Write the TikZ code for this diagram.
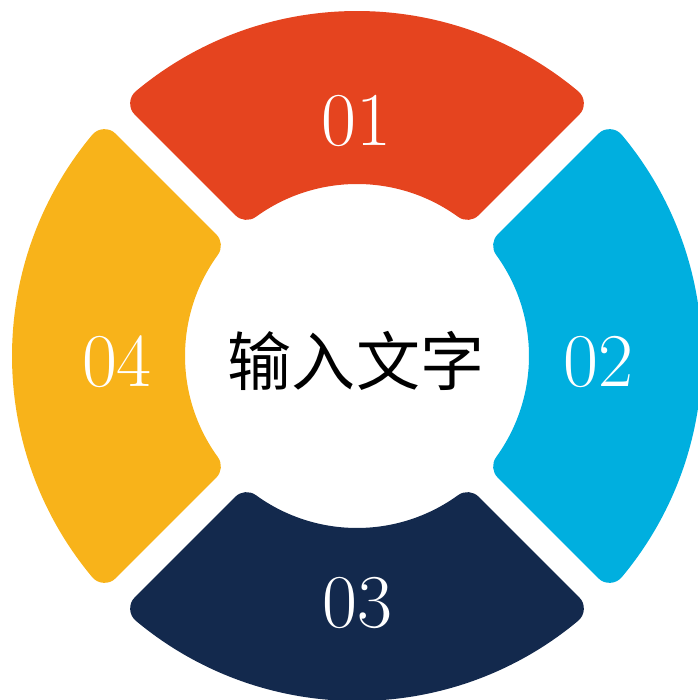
\documentclass[tikz,border=0pt]{standalone}
\usepackage{fontspec}
\newfontfamily\cjk{Noto Sans CJK SC}
\definecolor{cRed}{RGB}{229,68,31}
\definecolor{cBlue}{RGB}{0,175,223}
\definecolor{cNavy}{RGB}{19,41,77}
\definecolor{cYellow}{RGB}{248,179,26}
\tikzset{
  numlabel/.style={text=white,font=\fontsize{76}{80}\selectfont,inner sep=0pt},
  seg/.style={fill=#1,draw=#1,line width=32pt,line join=round}
}
\newcommand\ringseg[2]{%
  \begin{scope}[rotate=#1]
    \filldraw[seg=#2]
      (\aO:\Ro) arc[start angle=\aO, end angle={180-\aO}, radius=\Ro]
      -- ({180-\aI}:\Ri) arc[start angle={180-\aI}, end angle=\aI, radius=\Ri] -- cycle;
  \end{scope}}
\begin{document}
\begin{tikzpicture}[x=1pt,y=1pt]
\useasboundingbox (-357,-344) rectangle (340,356);
\pgfmathsetmacro\Ro{329}
\pgfmathsetmacro\Ri{188}
\pgfmathsetmacro\dd{29.5}
\pgfmathsetmacro\aO{45+asin(\dd/\Ro)}
\pgfmathsetmacro\aI{45+asin(\dd/\Ri)}
\ringseg{0}{cRed}
\ringseg{-90}{cBlue}
\ringseg{180}{cNavy}
\ringseg{90}{cYellow}
\node[numlabel] (n1) at (-1,235) {01};
\node[numlabel] (n2) at (241,-6) {02};
\node[numlabel] (n3) at (0,-247) {03};
\node[numlabel] (n4) at (-240,-6) {04};
\node[font=\cjk\fontsize{64}{68}\selectfont,inner sep=0pt] (c) at (-1,-5) {输入文字};
\end{tikzpicture}
\end{document}
